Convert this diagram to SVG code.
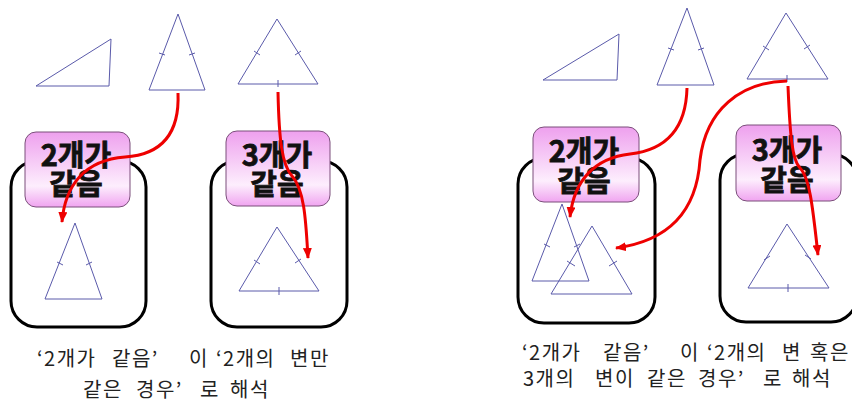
<svg xmlns="http://www.w3.org/2000/svg" width="852" height="405" viewBox="0 0 852 405">
<defs>
<linearGradient id="pink" x1="0" y1="0" x2="0" y2="1">
<stop offset="0" stop-color="#eea0ee"/>
<stop offset="0.72" stop-color="#fdeefd"/>
<stop offset="1" stop-color="#f0a4f0"/>
</linearGradient>
<marker id="ah" markerUnits="userSpaceOnUse" markerWidth="11" markerHeight="9" refX="10" refY="4.5" orient="auto">
<path d="M0,0 L11,4.5 L0,9 z" fill="#ee0000"/>
</marker>
<style>
.box{fill:#fff;stroke:#000;stroke-width:3}
.lab{fill:url(#pink);stroke:#7a4f7a;stroke-width:1}
.lt{font-family:"Noto Sans CJK KR","Noto Sans",sans-serif;font-weight:bold;font-size:29px;fill:#111;stroke:#111;stroke-width:0.8;text-anchor:middle}
.tri{fill:none;stroke:#5a5aaa;stroke-width:1}
.tick{stroke:#5a5aaa;stroke-width:1}
.con{fill:none;stroke:#ee0000;stroke-width:3;marker-end:url(#ah)}
.cap{font-family:"Noto Sans CJK KR","Noto Sans",sans-serif;font-size:20px;letter-spacing:1.5px;fill:#222}
</style>
</defs>

<!-- left panel top triangles -->
<g id="tri-scalene-1"><polygon class="tri" points="36,86 109,86 111,39"/></g>
<g id="tri-iso-1">
<polygon class="tri" points="178,14 149,90 205,90"/>
<line class="tick" x1="159" y1="53" x2="165" y2="55"/>
<line class="tick" x1="189" y1="55" x2="195" y2="53"/>
</g>
<g id="tri-equi-1">
<polygon class="tri" points="277,19 238,84 318,84"/>
<line class="tick" x1="254" y1="51" x2="260" y2="55"/>
<line class="tick" x1="295" y1="55" x2="301" y2="51"/>
<line class="tick" x1="278" y1="80" x2="278" y2="87"/>
</g>

<!-- left panel boxes -->
<g id="box-1">
<rect class="box" x="11" y="161" width="135" height="166" rx="26"/>
<polygon class="tri" points="75,223 45,299 102,299"/>
<line class="tick" x1="57" y1="262" x2="63" y2="265"/>
<line class="tick" x1="86" y1="265" x2="92" y2="262"/>
</g>
<g id="box-2">
<rect class="box" x="211" y="161" width="136" height="166" rx="26"/>
<polygon class="tri" points="277,227 239,291 319,291"/>
<line class="tick" x1="254" y1="260" x2="260" y2="264"/>
<line class="tick" x1="295" y1="263" x2="301" y2="259"/>
<line class="tick" x1="279" y1="287" x2="279" y2="295"/>
</g>
<g id="label-1">
<rect class="lab" x="25" y="132" width="105" height="75" rx="11"/>
<text class="lt"><tspan x="76" y="166">2개가</tspan><tspan x="76" y="195">같음</tspan></text>
</g>
<g id="label-2">
<rect class="lab" x="226" y="131" width="104" height="75" rx="11"/>
<text class="lt"><tspan x="277" y="166">3개가</tspan><tspan x="277" y="195">같음</tspan></text>
</g>

<!-- right panel top triangles -->
<g id="tri-scalene-2"><polygon class="tri" points="543,80 617,80 619,34"/></g>
<g id="tri-iso-2">
<polygon class="tri" points="687,8 657,85 714,85"/>
<line class="tick" x1="668" y1="48" x2="674" y2="50"/>
<line class="tick" x1="698" y1="50" x2="704" y2="48"/>
</g>
<g id="tri-equi-2">
<polygon class="tri" points="786,13 747,79 828,79"/>
<line class="tick" x1="763" y1="46" x2="769" y2="50"/>
<line class="tick" x1="804" y1="49" x2="810" y2="45"/>
<line class="tick" x1="787" y1="75" x2="787" y2="82"/>
</g>

<!-- right panel boxes -->
<g id="box-3">
<rect class="box" x="518" y="158" width="137" height="165" rx="26"/>
<polygon class="tri" points="562,204 532,281 589,281"/>
<line class="tick" x1="544" y1="244" x2="550" y2="247"/>
<line class="tick" x1="574" y1="247" x2="580" y2="244"/>
<polygon class="tri" points="592,226 551,294 632,294"/>
<line class="tick" x1="567" y1="261" x2="575" y2="266"/>
<line class="tick" x1="609" y1="266" x2="617" y2="261"/>
</g>
<g id="box-4">
<rect class="box" x="720" y="154" width="137" height="168" rx="26"/>
<polygon class="tri" points="787,224 748,288 829,288"/>
<line class="tick" x1="764" y1="260" x2="770" y2="256"/>
<line class="tick" x1="805" y1="255" x2="811" y2="259"/>
<line class="tick" x1="788" y1="284" x2="788" y2="292"/>
</g>
<g id="label-3">
<rect class="lab" x="533" y="127" width="106" height="75" rx="11"/>
<text class="lt"><tspan x="584" y="162">2개가</tspan><tspan x="584" y="192">같음</tspan></text>
</g>
<g id="label-4">
<rect class="lab" x="736" y="125" width="105" height="76" rx="11"/>
<text class="lt"><tspan x="787" y="161">3개가</tspan><tspan x="787" y="191">같음</tspan></text>
</g>

<!-- connectors -->
<g id="connectors">
<path class="con" d="M178,93 C180,140 155,155 125,157 C85,160 65,185 62,222"/>
<path class="con" d="M278,92 C279,140 282,165 292,176 C305,190 306,225 308,258"/>
<path class="con" d="M687,88 C686,130 665,150 630,154 C595,158 574,180 570,217"/>
<path class="con" d="M787,81 C740,82 706,110 700,160 C697,205 675,240 616,248"/>
<path class="con" d="M788,86 C790,135 792,160 800,168 C810,178 813,210 818,255"/>
</g>

<!-- captions -->
<g id="caption-1">
<text class="cap"><tspan x="37" y="366">‘2개가</tspan><tspan x="112" y="366">같음’</tspan><tspan x="189" y="366">이</tspan><tspan x="216" y="366">‘2개의</tspan><tspan x="290" y="366">변만</tspan><tspan x="83" y="397">같은</tspan><tspan x="136" y="397">경우’</tspan><tspan x="200" y="397">로</tspan><tspan x="230" y="397">해석</tspan></text>
</g>
<g id="caption-2">
<text class="cap"><tspan x="522" y="360">‘2개가</tspan><tspan x="603" y="360">같음’</tspan><tspan x="680" y="360">이</tspan><tspan x="707" y="360">‘2개의</tspan><tspan x="782" y="360">변</tspan><tspan x="810" y="360">혹은</tspan><tspan x="523" y="386">3개의</tspan><tspan x="595" y="386">변이</tspan><tspan x="647" y="386">같은</tspan><tspan x="698" y="386">경우’</tspan><tspan x="763" y="386">로</tspan><tspan x="792" y="386">해석</tspan></text>
</g>
</svg>
